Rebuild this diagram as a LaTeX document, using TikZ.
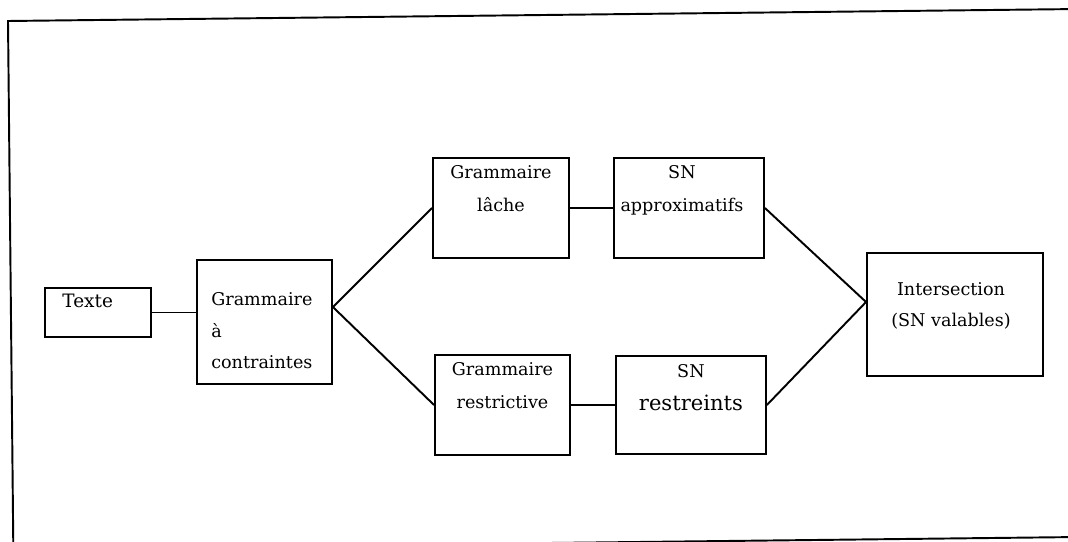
\documentclass[tikz,border=0pt]{standalone}
\usepackage{fontspec}
\setmainfont{DejaVu Serif}
\usetikzlibrary{positioning}

\begin{document}
\begin{tikzpicture}[
    node distance=0.9cm,
    box/.style={draw, line width=1.1pt, inner sep=0pt},
    lbl/.style={anchor=north, align=center, inner sep=0pt,
        font=\fontsize{10}{19}\selectfont},
    link/.style={line width=1.1pt}
  ]
  \useasboundingbox (0,0) rectangle (21.36,10.82);
  \clip (0,0) rectangle (21.36,10.82);
  % frame of the scanned page, a little tilted
  \draw[line width=1.1pt] (0.27,-0.5) -- (0.16,10.40) -- (21.6,10.64);
  \draw[line width=1.1pt] (9.2,-0.06) -- (21.6,0.08);

  \node[box, minimum width=2.12cm, minimum height=0.98cm,
    label={[lbl, anchor=north west, xshift=3.6mm, yshift=-1.4mm,
      font=\fontsize{10.5}{12}\selectfont]north west:Texte}] (texte) at (1.96,4.57) {};
  \node[box, minimum width=2.7cm, minimum height=2.48cm,
    right=0.88cm of texte, yshift=-1.9mm,
    label={[lbl, anchor=north west, align=left, xshift=3mm, yshift=-6.6mm,
      font=\fontsize{10}{18}\selectfont]north west:Grammaire\\à\\contraintes}] (gc) {};

  \node[box, minimum width=2.72cm, minimum height=2cm,
    label={[lbl, yshift=-1.6mm]north:Grammaire\\lâche}] (lache) at (10.02,6.66) {};
  \node[box, minimum width=3cm, minimum height=2cm, right=0.86cm of lache,
    label={[lbl, xshift=-1.4mm, yshift=-1.6mm]north:SN\\approximatifs}] (snapprox) {};

  \node[box, minimum width=2.7cm, minimum height=2cm,
    label={[lbl, yshift=-1.6mm, font=\fontsize{10}{18.6}\selectfont]north:Grammaire\\restrictive}] (restr) at (10.05,2.72) {};
  \node[box, minimum width=3cm, minimum height=1.96cm, right=0.88cm of restr,
    label={[lbl, yshift=-1.8mm]north:SN\\\fontsize{12}{21.6}\selectfont restreints}] (snrestr) {};

  \node[box, minimum width=3.52cm, minimum height=2.46cm,
    label={[lbl, xshift=-0.8mm, yshift=-6mm, font=\fontsize{10}{17.6}\selectfont]north:Intersection\\(SN valables)}] (inter) at (19.10,4.53) {};

  \draw[link] (texte.east) -- (texte.east -| gc.west);
  \draw[link] (lache.west) -- ([yshift=3mm]gc.east) -- (restr.west);
  \draw[link] (lache) -- (snapprox);
  \draw[link] (restr) -- (snrestr);
  \draw[link] (snapprox.east) -- ([yshift=2.5mm]inter.west) -- (snrestr.east);
\end{tikzpicture}
\end{document}
